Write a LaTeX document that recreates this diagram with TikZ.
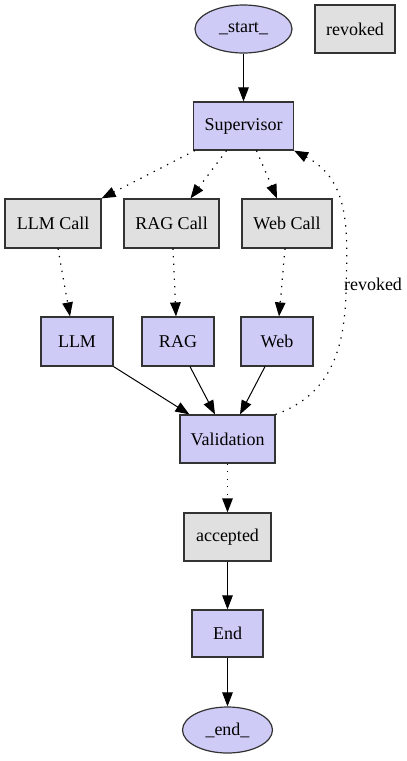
\documentclass[tikz,border=0pt]{standalone}
\usepackage{fontspec}
\setmainfont{Liberation Serif}
\usetikzlibrary{arrows.meta,calc,shapes.geometric}
\definecolor{pur}{RGB}{206,203,246}
\definecolor{gry}{RGB}{224,224,224}
\definecolor{bord}{RGB}{51,51,51}
\tikzset{
  base/.style={draw=bord,line width=1.2pt,inner sep=0pt,font=\fontsize{18}{21}\selectfont},
  pbox/.style={base,rectangle,fill=pur},
  gbox/.style={base,rectangle,fill=gry},
  pell/.style={base,ellipse,fill=pur},
  solidarr/.style={line width=1pt,-{Triangle[length=14pt,width=10.5pt]}},
  dotarr/.style={line width=1.2pt,dash pattern=on 1.3pt off 6.2pt,-{Triangle[length=14pt,width=10.5pt]}}
}
\begin{document}
\begin{tikzpicture}[x=1pt,y=-1pt]
\useasboundingbox (0,0) rectangle (407,761);
\node[pell,minimum width=97,minimum height=48] (start) at (243.5,29) {\_start\_};
\node[gbox,minimum width=80,minimum height=48] (revoked) at (355,29) {revoked};
\node[pbox,minimum width=100,minimum height=48] (sup) at (243.5,126) {Supervisor};
\node[gbox,minimum width=96,minimum height=49] (llmc) at (53,223.5) {LLM Call};
\node[gbox,minimum width=95,minimum height=49] (ragc) at (171.5,223.5) {RAG Call};
\node[gbox,minimum width=90,minimum height=49] (webc) at (287,223.5) {Web Call};
\node[pbox,minimum width=72,minimum height=49] (llm) at (77,341.5) {LLM};
\node[pbox,minimum width=72,minimum height=49] (rag) at (178,341.5) {RAG};
\node[pbox,minimum width=72,minimum height=49] (web) at (277,341.5) {Web};
\node[pbox,minimum width=95,minimum height=48] (val) at (227.5,439) {Validation};
\node[gbox,minimum width=87,minimum height=48] (acc) at (227.5,537) {accepted};
\node[pbox,minimum width=71,minimum height=47] (endb) at (227.5,633.5) {End};
\node[pell,minimum width=90,minimum height=46] (endn) at (227.5,730) {\_end\_};

\draw[solidarr] (start) -- (sup);
\draw[dotarr] ($(sup.south west)+(2,0)$) -- (llmc.north east);
\draw[dotarr] ($(sup.south)+(-17,0)$) -- ($(ragc.north)+(19,0)$);
\draw[dotarr] ($(sup.south)+(13,0)$) -- ($(webc.north)+(-10,0)$);
\draw[dotarr] ($(llmc.south)+(5,0)$) -- ($(llm.north)+(-7,0)$);
\draw[dotarr] ($(ragc.south)+(1.5,0)$) -- ($(rag.north)+(-2,0)$);
\draw[dotarr] ($(webc.south)+(-2,0)$) -- ($(web.north)+(2,0)$);
\draw[solidarr] (llm.south east) -- ($(val.north west)+(10,0)$);
\draw[solidarr] ($(rag.south)+(12,0)$) -- ($(val.north)+(-12.5,0)$);
\draw[solidarr] ($(web.south)+(-12,0)$) -- ($(val.north)+(12.5,0)$);
\draw[dotarr] (val.north east) .. controls (330,395) and (345,350) .. (346,290)
  .. controls (348,230) and (350,180) .. (sup.south east);
\node[font=\fontsize{18}{21}\selectfont] (revlbl) at (373,284) {revoked};
\draw[dotarr] (val) -- (acc);
\draw[solidarr] (acc) -- (endb);
\draw[solidarr] (endb) -- (endn);
\end{tikzpicture}
\end{document}
